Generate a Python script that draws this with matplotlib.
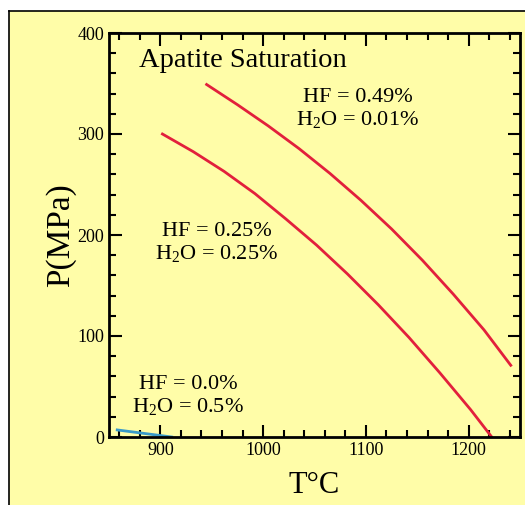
import matplotlib
matplotlib.use("Agg")
import matplotlib.pyplot as plt
from matplotlib.patches import Rectangle
from matplotlib.lines import Line2D
from matplotlib.ticker import MultipleLocator

# HF = 0.49%, H2O = 0.01%
t_high = [945, 975, 1005, 1035, 1065, 1095, 1125, 1155, 1185, 1215, 1241]
p_high = [349, 329, 308, 285.5, 261, 234.5, 206, 175, 141.5, 106, 71]
# HF = 0.25%, H2O = 0.25%
t_mid = [902, 932, 962, 992, 1022, 1052, 1082, 1112, 1142, 1172, 1202, 1222.5]
p_mid = [300, 282.5, 263, 241, 216, 190, 161.5, 131, 98.5, 63.5, 27, 0]
# HF = 0.0%, H2O = 0.5%
t_low = [858, 911]
p_low = [7, 0]

plt.rcParams['font.family'] = ['Liberation Serif', 'DejaVu Serif']
plt.rcParams['mathtext.fontset'] = 'custom'
plt.rcParams['mathtext.rm'] = 'Liberation Serif'
plt.rcParams['mathtext.it'] = 'Liberation Serif:italic'
yellow = '#FFFDA8'

fig = plt.figure(figsize=(5.25, 5.05), dpi=100)
fig.patch.set_facecolor('white')
# yellow panel with a black edge on top and left
x0, y1 = 9 / 525, 1 - 11 / 505
fig.patches.append(Rectangle((x0, 0), 1 - x0, y1, transform=fig.transFigure,
                             facecolor=yellow, edgecolor='none', zorder=-10))
fig.lines.append(Line2D([x0, 1], [y1, y1], transform=fig.transFigure, color='black', lw=1.2, zorder=-5))
fig.lines.append(Line2D([x0, x0], [0, y1], transform=fig.transFigure, color='black', lw=1.2, zorder=-5))

ax = fig.add_axes([109 / 525, 1 - 437 / 505, 411 / 525, 404 / 505])
ax.set_zorder(5)
ax.set_facecolor(yellow)

ax.plot(t_high, p_high, color='#E2203C', lw=2)
ax.plot(t_mid, p_mid, color='#E2203C', lw=2)
ax.plot(t_low, p_low, color='#3A9AC8', lw=2)

ax.set_xlim(850, 1250)
ax.set_ylim(0, 400)
ax.xaxis.set_major_locator(MultipleLocator(100))
ax.xaxis.set_minor_locator(MultipleLocator(20))
ax.yaxis.set_major_locator(MultipleLocator(100))
ax.yaxis.set_minor_locator(MultipleLocator(20))
ax.tick_params(which='both', direction='in', top=True, right=True, width=1.5, labelsize=13)
ax.tick_params(which='major', length=9)
ax.tick_params(which='minor', length=5)
for s in ax.spines.values():
    s.set_linewidth(2)

ax.set_xlabel('T°C', fontsize=22, labelpad=9)
ax.set_ylabel('P(MPa)', fontsize=24, labelpad=1)

ax.text(0.073, 0.933, 'Apatite Saturation', transform=ax.transAxes, fontsize=20.5, va='center')
ax.text(1092, 325, 'HF = 0.49%\nH$_2$O = 0.01%', fontsize=16, ha='center', va='center', linespacing=1.12)
ax.text(955, 192, 'HF = 0.25%\nH$_2$O = 0.25%', fontsize=16, ha='center', va='center', linespacing=1.12)
ax.text(927, 40.5, 'HF = 0.0%\nH$_2$O = 0.5%', fontsize=16, ha='center', va='center', linespacing=1.12)

fig.savefig('out.png', dpi=100, facecolor=fig.get_facecolor())
